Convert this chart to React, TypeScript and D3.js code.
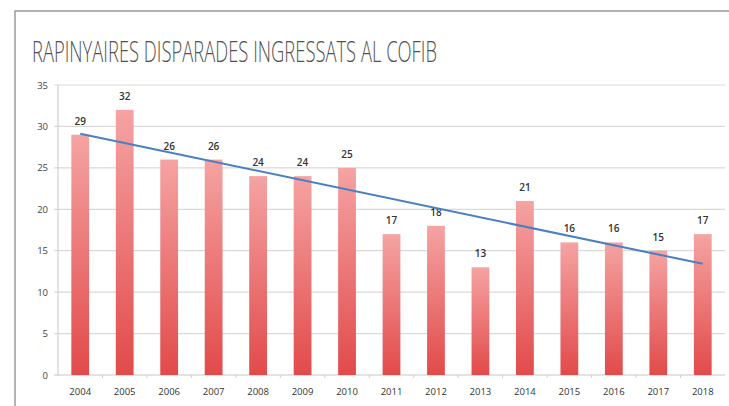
import React, { useEffect, useRef } from 'react';
import * as d3 from 'd3';

const years = ['2004', '2005', '2006', '2007', '2008', '2009', '2010', '2011', '2012', '2013', '2014', '2015', '2016', '2017', '2018'];
const counts = [29, 32, 26, 26, 24, 24, 25, 17, 18, 13, 21, 16, 16, 15, 17];
const yTicks = [0, 5, 10, 15, 20, 25, 30, 35];
const title = 'RAPINYAIRES DISPARADES INGRESSATS AL COFIB';

const W = 729;
const H = 406;

const App: React.FC = () => {
  const svgRef = useRef<SVGSVGElement>(null);

  useEffect(() => {
    if (!svgRef.current) return;
    const svg = d3.select(svgRef.current);
    svg.selectAll('*').remove();

    const plot = { left: 58, right: 725, top: 85, bottom: 375 };

    const x = d3.scaleBand<string>()
      .domain(years)
      .range([plot.left, plot.right])
      .paddingInner(0.6)
      .paddingOuter(0.3);

    const y = d3.scaleLinear().domain([0, 35]).range([plot.bottom, plot.top]);

    const defs = svg.append('defs');
    const grad = defs.append('linearGradient')
      .attr('id', 'barGrad')
      .attr('x1', 0).attr('x2', 0)
      .attr('y1', 0).attr('y2', 1);
    grad.append('stop').attr('offset', '0%').attr('stop-color', '#f5a3a3');
    grad.append('stop').attr('offset', '100%').attr('stop-color', '#e24a4a');

    // frame
    svg.append('path')
      .attr('d', `M15,${H} L15,11 L${W},11`)
      .attr('fill', 'none')
      .attr('stroke', '#9a9a9a')
      .attr('stroke-width', 1.5);

    svg.append('text')
      .attr('x', 32)
      .attr('y', 62)
      .attr('font-family', '"Open Sans", sans-serif')
      .attr('font-weight', 300)
      .attr('font-size', 30)
      .attr('fill', '#505050')
      .attr('textLength', 405)
      .attr('lengthAdjust', 'spacingAndGlyphs')
      .text(title);

    // grid
    svg.append('g')
      .selectAll('line')
      .data(yTicks)
      .join('line')
      .attr('x1', plot.left - 4)
      .attr('x2', plot.right)
      .attr('y1', (d) => y(d))
      .attr('y2', (d) => y(d))
      .attr('stroke', (d) => (d === 0 ? '#c8c8c8' : '#d9d9d9'))
      .attr('stroke-width', 1.2);

    svg.append('line')
      .attr('x1', plot.left).attr('x2', plot.left)
      .attr('y1', plot.top).attr('y2', plot.bottom)
      .attr('stroke', '#d0d0d0')
      .attr('stroke-width', 1.2);

    svg.append('g')
      .selectAll('text')
      .data(yTicks)
      .join('text')
      .attr('x', 48)
      .attr('y', (d) => y(d) + 3.5)
      .attr('text-anchor', 'end')
      .attr('font-family', '"Open Sans", sans-serif')
      .attr('font-size', 9.5)
      .attr('fill', '#444')
      .text((d) => d);

    // small category ticks on the x axis
    const step = x.step();
    svg.append('g')
      .selectAll('line')
      .data(years.slice(1))
      .join('line')
      .attr('x1', (d) => (x(d) ?? 0) - (step - x.bandwidth()) / 2)
      .attr('x2', (d) => (x(d) ?? 0) - (step - x.bandwidth()) / 2)
      .attr('y1', plot.bottom)
      .attr('y2', plot.bottom + 3)
      .attr('stroke', '#d0d0d0');

    // bars
    svg.append('g')
      .selectAll('rect')
      .data(counts)
      .join('rect')
      .attr('x', (_, i) => x(years[i]) ?? 0)
      .attr('y', (d) => y(d))
      .attr('width', x.bandwidth())
      .attr('height', (d) => y(0) - y(d))
      .attr('fill', 'url(#barGrad)');

    // value labels
    svg.append('g')
      .selectAll('text')
      .data(counts)
      .join('text')
      .attr('x', (_, i) => (x(years[i]) ?? 0) + x.bandwidth() / 2)
      .attr('y', (d) => y(d) - 10)
      .attr('text-anchor', 'middle')
      .attr('font-family', '"Open Sans", sans-serif')
      .attr('font-weight', 600)
      .attr('font-size', 10)
      .attr('fill', '#333')
      .text((d) => d);

    // x labels
    svg.append('g')
      .selectAll('text')
      .data(years)
      .join('text')
      .attr('x', (d) => (x(d) ?? 0) + x.bandwidth() / 2)
      .attr('y', 395)
      .attr('text-anchor', 'middle')
      .attr('font-family', '"Open Sans", sans-serif')
      .attr('font-size', 9.5)
      .attr('fill', '#333')
      .text((d) => d);

    // linear trend line (least squares over the bar values)
    const n = counts.length;
    const meanX = (n - 1) / 2;
    const meanY = d3.mean(counts) ?? 0;
    const sxy = d3.sum(counts, (v, i) => (i - meanX) * (v - meanY));
    const sxx = d3.sum(counts, (_, i) => (i - meanX) ** 2);
    const slope = sxy / sxx;
    const intercept = meanY - slope * meanX;
    const ends = [0, n - 1];

    svg.append('path')
      .datum(ends)
      .attr('d', d3.line<number>()
        .x((i) => (x(years[i]) ?? 0) + x.bandwidth() / 2)
        .y((i) => y(intercept + slope * i)))
      .attr('fill', 'none')
      .attr('stroke', '#4a7fc1')
      .attr('stroke-width', 2);
  }, []);

  return (
    <svg
      ref={svgRef}
      width={W}
      height={H}
      style={{ position: 'absolute', top: 0, left: 0, background: '#fff' }}
    />
  );
};

export default App;
